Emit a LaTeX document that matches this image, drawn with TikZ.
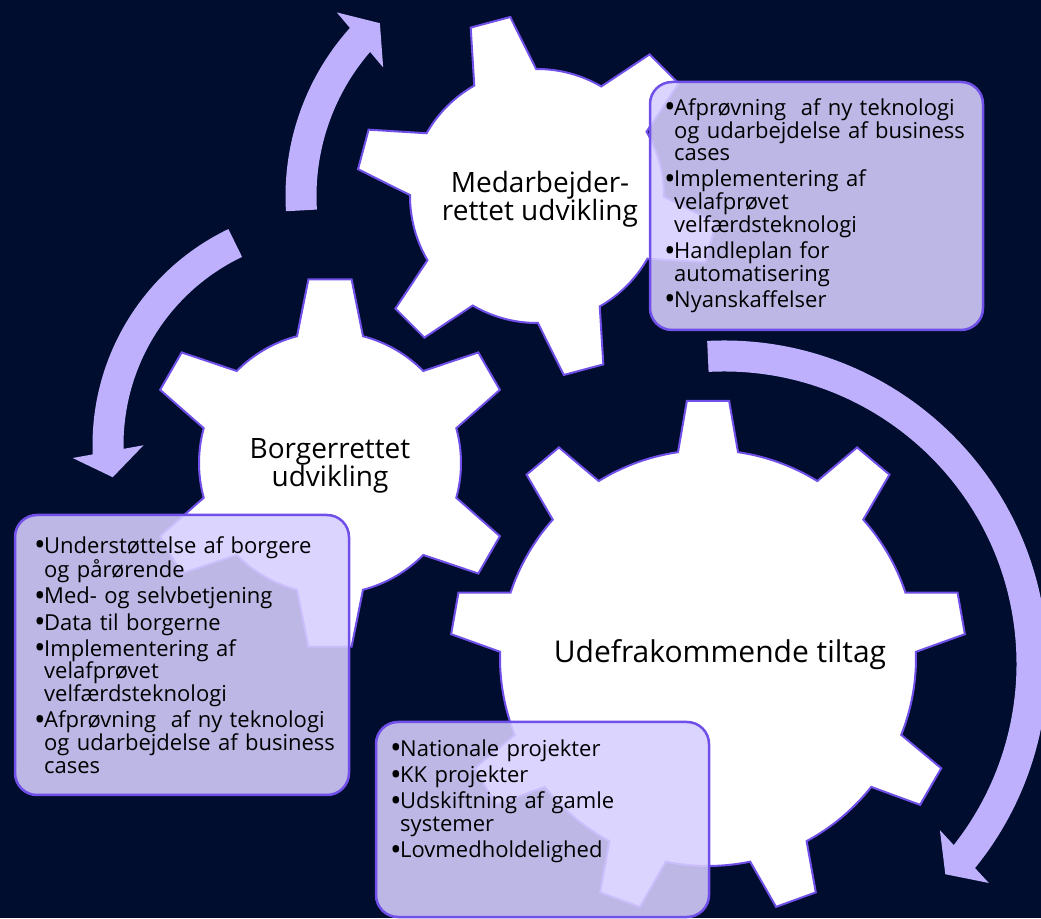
\documentclass[tikz,border=0pt]{standalone}
\usepackage{fontspec}
\usepackage{graphicx}
\setmainfont{Open Sans}
\usetikzlibrary{calc}
\definecolor{navy}{HTML}{000D2E}
\definecolor{lilac}{HTML}{BFB0FE}
\definecolor{gearline}{HTML}{7050E8}
\definecolor{boxfill}{HTML}{D7CFFF}
\tikzset{
	gear/.style={draw=gearline,line width=2pt,fill=white,line join=miter},
	cycshaft/.style={draw=lilac,line width=31pt},
	cychead/.style={fill=lilac},
	infobox/.style={draw=gearline,line width=2.5pt,fill=boxfill,fill opacity=.88,rounded corners=22pt},
	infotext/.style={anchor=north west,inner sep=0pt,text width=330pt,align=left,font=\fontsize{22}{22.7}\selectfont,execute at begin node={\setlength{\parskip}{3.5pt}}},
	gearlabel/.style={align=center,inner sep=0pt,font=\fontsize{28}{28}\selectfont},
}
% centre, teeth, first tooth angle, body radius, tip radius, half angle at body, half angle at tip
\newcommand{\drawgear}[7]{%
	\draw[gear,shift={(#1)}] ({#3-#6}:#4)
		\foreach \k [evaluate=\k as \a using #3+(\k-1)*360/#2] in {1,...,#2}{
			-- ({\a-#7}:#5) -- ({\a+#7}:#5) -- ({\a+#6}:#4)
			arc[start angle=\a+#6,end angle=\a+360/#2-#6,radius=#4]
		} -- cycle;}
% centre, radius, tail angle, head angle
\newcommand{\cycarrow}[4]{%
	\pgfmathsetmacro{\cycdir}{ifthenelse(#4<#3,-1,1)}
	\pgfmathsetmacro{\hd}{#4+8.5*\cycdir}
	\draw[cycshaft] ($(#1)+(#3:#2)$) arc[start angle=#3,end angle=#4+2*\cycdir,radius=#2];
	\fill[cychead] ($(#1)+(#4:#2)+(\hd:36)$) -- ($(#1)+(#4:#2)+({\hd+180}:36)$)
		-- ($(#1)+(#4:#2)+({\hd+90*\cycdir}:26)$) -- cycle;}
\newcommand{\bitem}[1]{\par\hangindent=10pt\hangafter=1\noindent\makebox[10pt][l]{\smash{\raisebox{-2.5pt}{\scalebox{1.4}{\textbullet}}}}#1\par}

\begin{document}
\begin{tikzpicture}[x=1pt,y=1pt]
	\useasboundingbox (0,0) rectangle (1041,918);
	\fill[navy] (0,0) rectangle (1041,918);
	\clip (0,0) rectangle (1041,918);

	\coordinate (g1) at (537,722);
	\coordinate (g2) at (330,455);
	\coordinate (g3) at (708,260);
	\coordinate (a2) at (332,473);
	\coordinate (a3) at (724,254);

	% circular arrows
	\cycarrow{g1}{236}{183.5}{138.6}
	\cycarrow{a2}{224}{115.6}{181.7}
	\cycarrow{a3}{308}{93}{-38.7}

	% gears
	\drawgear{g1}{6}{45}{127}{181}{14.6}{6.5}
	\drawgear{g2}{6}{90}{131}{185}{14.6}{6.7}
	\drawgear{g3}{9}{90}{208}{258}{8.3}{4.7}

	\node[gearlabel] (lblmed) at (540,719) {Medarbejder-\\rettet udvikling};
	\node[gearlabel] (lblborger) at (330,452) {Borgerrettet\\udvikling};
	\node[gearlabel,font=\fontsize{30}{30}\selectfont] (lbludefra) at (720,263) {Udefrakommende tiltag};

	% boxes
	\draw[infobox] (650,588) rectangle (983,836);
	\draw[infobox] (15,123) rectangle (349,403);
	\draw[infobox] (376,1) rectangle (709,196);

	\node[infotext] (txtmed) at (664,829) {%
		\bitem{Afprøvning\ \ af ny teknologi\newline og udarbejdelse af business\newline cases}
		\bitem{Implementering af\newline velafprøvet\newline velfærdsteknologi}
		\bitem{Handleplan for\newline automatisering}
		\bitem{Nyanskaffelser}};
	\node[infotext] (txtborger) at (34,391) {%
		\bitem{Understøttelse af borgere\newline og pårørende}
		\bitem{Med- og selvbetjening}
		\bitem{Data til borgerne}
		\bitem{Implementering af\newline velafprøvet\newline velfærdsteknologi}
		\bitem{Afprøvning\ \ af ny teknologi\newline og udarbejdelse af business\newline cases}};
	\node[infotext] (txtudefra) at (390,188) {%
		\bitem{Nationale projekter}
		\bitem{KK projekter}
		\bitem{Udskiftning af gamle\newline systemer}
		\bitem{Lovmedholdelighed}};
\end{tikzpicture}
\end{document}
